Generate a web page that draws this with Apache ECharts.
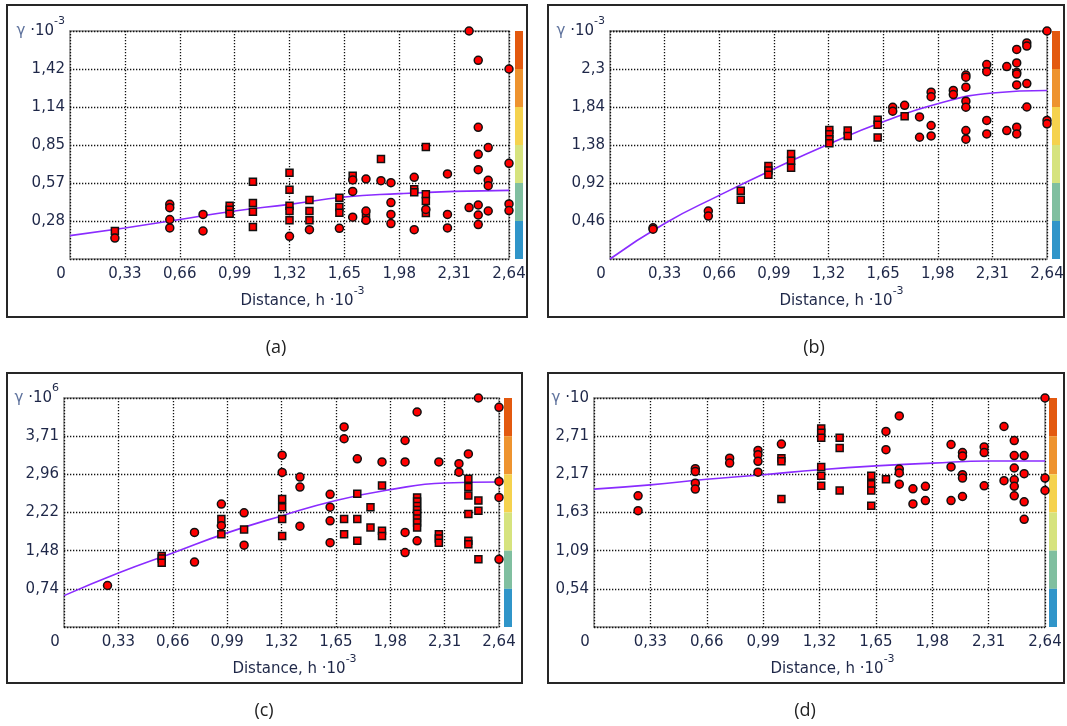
<!DOCTYPE html>
<html>
<head>
<meta charset="utf-8">
<script src="https://cdn.jsdelivr.net/npm/echarts@6/dist/echarts.min.js"></script>
<style>
  html, body { margin: 0; padding: 0; background: #ffffff; }
  #chart { width: 1067px; height: 726px; }
</style>
</head>
<body>
<div id="chart"></div>
<script>
// ---- Semivariogram data: distance h (·10^-3) vs gamma ----
const X_TICKS = ['0', '0,33', '0,66', '0,99', '1,32', '1,65', '1,98', '2,31', '2,64'];
const X_STEP = 0.33;

// Panel (a)
const A_Y_STEP = 0.285;
const A_Y_TICKS = ['0,28', '0,57', '0,85', '1,14', '1,42'];
const A_Y_UNIT = '-3';
const A_SQUARES = [
  [0.27, 0.21],
  [0.96, 0.40], [0.96, 0.37], [0.96, 0.34],
  [1.10, 0.58], [1.10, 0.42], [1.10, 0.355], [1.10, 0.24],
  [1.32, 0.646], [1.32, 0.52], [1.32, 0.40], [1.32, 0.36], [1.32, 0.29],
  [1.44, 0.443], [1.44, 0.36], [1.44, 0.29],
  [1.62, 0.46], [1.62, 0.39], [1.62, 0.347],
  [1.70, 0.625], [1.78, 0.32], [1.87, 0.75],
  [2.07, 0.524], [2.07, 0.50],
  [2.14, 0.84], [2.14, 0.486], [2.14, 0.435], [2.14, 0.345]
];
const A_CIRCLES = [
  [0.27, 0.157],
  [0.60, 0.41], [0.60, 0.385], [0.60, 0.296], [0.60, 0.233],
  [0.80, 0.334], [0.80, 0.21],
  [1.32, 0.17], [1.44, 0.22], [1.62, 0.23],
  [1.70, 0.593], [1.70, 0.507], [1.70, 0.314],
  [1.78, 0.60], [1.78, 0.36], [1.78, 0.29],
  [1.87, 0.587],
  [1.93, 0.572], [1.93, 0.423], [1.93, 0.334], [1.93, 0.266],
  [2.07, 0.613], [2.07, 0.22],
  [2.14, 0.372],
  [2.27, 0.638], [2.27, 0.334], [2.27, 0.233],
  [2.40, 1.71], [2.40, 0.386],
  [2.455, 1.49], [2.455, 0.988], [2.455, 0.785], [2.455, 0.67], [2.455, 0.405], [2.455, 0.33], [2.455, 0.258],
  [2.515, 0.836], [2.515, 0.59], [2.515, 0.55], [2.515, 0.36],
  [2.64, 1.425], [2.64, 0.718], [2.64, 0.413], [2.64, 0.363]
];
const A_MODEL = [[0, 0.175], [0.33, 0.233], [0.66, 0.296], [0.99, 0.36], [1.32, 0.41], [1.65, 0.465], [1.98, 0.49], [2.31, 0.507], [2.64, 0.515]];

// Panel (b)
const B_Y_STEP = 0.46;
const B_Y_TICKS = ['0,46', '0,92', '1,38', '1,84', '2,3'];
const B_Y_UNIT = '-3';
const B_SQUARES = [
  [0.79, 0.826], [0.79, 0.716],
  [0.957, 1.125], [0.957, 1.07], [0.957, 1.02],
  [1.094, 1.27], [1.094, 1.19], [1.094, 1.105],
  [1.325, 1.563], [1.325, 1.51], [1.325, 1.45], [1.325, 1.40],
  [1.436, 1.555], [1.436, 1.49],
  [1.617, 1.686], [1.617, 1.624], [1.617, 1.47],
  [1.78, 1.727]
];
const B_CIRCLES = [
  [0.26, 0.377], [0.26, 0.36],
  [0.594, 0.58], [0.594, 0.52],
  [1.708, 1.837], [1.708, 1.79],
  [1.78, 1.86],
  [1.87, 1.72], [1.87, 1.474],
  [1.94, 2.02], [1.94, 1.964], [1.94, 1.616], [1.94, 1.49],
  [2.074, 2.04], [2.074, 1.99],
  [2.15, 2.226], [2.15, 2.2], [2.15, 2.08], [2.15, 1.91], [2.15, 1.837], [2.15, 1.555], [2.15, 1.45],
  [2.276, 2.353], [2.276, 2.267], [2.276, 1.678], [2.276, 1.514],
  [2.397, 2.33], [2.397, 1.555],
  [2.457, 2.537], [2.457, 2.373], [2.457, 2.259], [2.457, 2.238], [2.457, 2.107], [2.457, 1.596], [2.457, 1.514],
  [2.518, 2.615], [2.518, 2.578], [2.518, 2.124], [2.518, 1.84],
  [2.64, 2.76], [2.64, 1.678], [2.64, 1.637]
];
const B_MODEL = [[0, 0], [0.33, 0.43], [0.66, 0.77], [0.99, 1.09], [1.32, 1.39], [1.65, 1.66], [1.98, 1.88], [2.31, 2.01], [2.64, 2.04]];

// Panel (c)
const C_Y_STEP = 0.742;
const C_Y_TICKS = ['0,74', '1,48', '2,22', '2,96', '3,71'];
const C_Y_UNIT = '6';
const C_SQUARES = [
  [0.593, 1.38], [0.593, 1.33], [0.593, 1.25],
  [0.955, 2.10], [0.955, 1.805],
  [1.093, 1.897],
  [1.324, 2.49], [1.324, 2.33], [1.324, 2.10], [1.324, 1.77],
  [1.70, 2.10], [1.70, 1.805],
  [1.78, 2.59], [1.78, 2.10], [1.78, 1.675],
  [1.86, 2.33], [1.86, 1.936],
  [1.93, 2.75], [1.93, 1.87], [1.93, 1.77],
  [2.143, 2.52], [2.143, 2.44], [2.143, 2.35], [2.143, 2.275], [2.143, 2.20], [2.143, 2.11], [2.143, 2.03], [2.143, 1.936],
  [2.275, 1.805], [2.275, 1.72], [2.275, 1.64],
  [2.454, 2.88], [2.454, 2.72], [2.454, 2.555], [2.454, 2.197], [2.454, 1.675], [2.454, 1.61],
  [2.515, 2.457], [2.515, 2.26], [2.515, 1.315]
];
const C_CIRCLES = [
  [0.264, 0.807],
  [0.792, 1.838], [0.792, 1.263],
  [0.955, 2.39], [0.955, 1.97],
  [1.093, 2.22], [1.093, 1.59],
  [1.324, 3.34], [1.324, 3.005],
  [1.432, 2.915], [1.432, 2.72], [1.432, 1.96],
  [1.615, 2.58], [1.615, 2.33], [1.615, 2.065], [1.615, 1.64],
  [1.70, 3.89], [1.70, 3.66],
  [1.78, 3.27], [1.93, 3.21],
  [2.07, 3.626], [2.07, 3.21], [2.07, 1.838], [2.07, 1.447],
  [2.143, 4.18], [2.143, 1.675],
  [2.275, 3.21],
  [2.397, 3.175], [2.397, 3.01],
  [2.454, 3.365],
  [2.515, 4.452],
  [2.64, 4.27], [2.64, 2.83], [2.64, 2.52], [2.64, 1.315]
];
const C_MODEL = [[0, 0.61], [0.33, 1.05], [0.66, 1.44], [0.99, 1.83], [1.32, 2.16], [1.65, 2.46], [1.98, 2.67], [2.31, 2.80], [2.64, 2.82]];

// Panel (d)
const D_Y_STEP = 0.5425;
const D_Y_TICKS = ['0,54', '1,09', '1,63', '2,17', '2,71'];
const D_Y_UNIT = '';
const D_SQUARES = [
  [1.097, 2.40], [1.097, 2.355], [1.097, 1.82],
  [1.33, 2.82], [1.33, 2.76], [1.33, 2.69], [1.33, 2.275], [1.33, 2.15], [1.33, 2.007],
  [1.438, 2.69], [1.438, 2.546], [1.438, 1.94],
  [1.623, 2.15], [1.623, 2.03], [1.623, 1.94], [1.623, 1.725],
  [1.709, 2.10]
];
const D_CIRCLES = [
  [0.258, 1.864], [0.258, 1.653],
  [0.593, 2.25], [0.593, 2.21], [0.593, 2.045], [0.593, 1.96],
  [0.794, 2.40], [0.794, 2.33],
  [0.96, 2.51], [0.96, 2.45], [0.96, 2.355], [0.96, 2.20],
  [1.097, 2.60],
  [1.709, 2.78], [1.709, 2.52],
  [1.787, 3.0], [1.787, 2.246], [1.787, 2.19], [1.787, 2.03],
  [1.867, 1.964], [1.867, 1.75],
  [1.94, 2.0], [1.94, 1.797],
  [2.09, 2.594], [2.09, 2.275], [2.09, 1.797],
  [2.157, 2.48], [2.157, 2.43], [2.157, 2.165], [2.157, 2.117], [2.157, 1.855],
  [2.284, 2.56], [2.284, 2.48], [2.284, 2.007],
  [2.40, 2.85], [2.40, 2.08],
  [2.46, 2.65], [2.46, 2.436], [2.46, 2.26], [2.46, 2.093], [2.46, 2.0], [2.46, 1.864],
  [2.518, 2.436], [2.518, 2.18], [2.518, 1.78], [2.518, 1.53],
  [2.64, 3.255], [2.64, 2.117], [2.64, 1.94]
];
const D_MODEL = [[0, 1.96], [0.33, 2.02], [0.66, 2.10], [0.99, 2.165], [1.32, 2.235], [1.65, 2.29], [1.98, 2.33], [2.31, 2.36], [2.64, 2.36]];

const CAPTIONS = ['(a)', '(b)', '(c)', '(d)'];
const COLOR_BAR = ['#e3590f', '#ee932f', '#f5d24e', '#d6e37e', '#80bfa0', '#3095c9'];

// ---- Layout and styles ----
const FONT = 'DejaVu Sans';
const TEXT = '#1e2748';
const Y_DIVS = 6;

const panels = [
  { grid: { left: 70, top: 31, width: 439, height: 228 }, frame: [7, 5, 520, 312], bar: 515, cap: [276, 348],
    yStep: A_Y_STEP, yTicks: A_Y_TICKS, unit: A_Y_UNIT, squares: A_SQUARES, circles: A_CIRCLES, model: A_MODEL },
  { grid: { left: 610, top: 31, width: 437, height: 228 }, frame: [548, 5, 516, 312], bar: 1052, cap: [814, 348],
    yStep: B_Y_STEP, yTicks: B_Y_TICKS, unit: B_Y_UNIT, squares: B_SQUARES, circles: B_CIRCLES, model: B_MODEL },
  { grid: { left: 64, top: 398, width: 435, height: 229 }, frame: [7, 373, 515, 310], bar: 504, cap: [264, 711],
    yStep: C_Y_STEP, yTicks: C_Y_TICKS, unit: C_Y_UNIT, squares: C_SQUARES, circles: C_CIRCLES, model: C_MODEL },
  { grid: { left: 594, top: 398, width: 451, height: 229 }, frame: [548, 373, 516, 310], bar: 1049, cap: [805, 711],
    yStep: D_Y_STEP, yTicks: D_Y_TICKS, unit: D_Y_UNIT, squares: D_SQUARES, circles: D_CIRCLES, model: D_MODEL }
];

const grids = [], xAxes = [], yAxes = [], series = [], graphics = [];

const gridLine = { show: true, lineStyle: { color: '#111111', width: 1.3, type: [1.3, 1.7] } };
const supRich = {
  g: { fontFamily: FONT, fontSize: 15, color: '#5d719c', lineHeight: 30 },
  t: { fontFamily: FONT, fontSize: 15, color: TEXT, lineHeight: 30 },
  s: { fontFamily: FONT, fontSize: 11, color: TEXT, lineHeight: 12, verticalAlign: 'top' },
  z: { fontFamily: FONT, fontSize: 15, color: TEXT, padding: [0, 18, 0, 0] }
};

panels.forEach(function (p, k) {
  grids.push(Object.assign({ show: true, borderColor: '#a9a9a9', borderWidth: 2, backgroundColor: '#ffffff' }, p.grid));

  xAxes.push({
    gridIndex: k, type: 'value', min: 0, max: 2.64, interval: X_STEP,
    axisLine: { show: false }, axisTick: { show: false },
    splitLine: gridLine,
    axisLabel: {
      margin: 8, fontFamily: FONT, fontSize: 15, color: TEXT, rich: supRich,
      formatter: function (v) {
        const i = Math.round(v / X_STEP);
        return i === 0 ? '{z|' + X_TICKS[0] + '}' : X_TICKS[i];
      }
    },
    name: '{t|Distance, h ·10}{s|-3}',
    nameLocation: 'middle', nameGap: 27,
    nameTextStyle: { fontFamily: FONT, fontSize: 15, color: TEXT, rich: supRich, padding: [0, 0, 0, 26] }
  });

  const step = p.yStep, ticks = p.yTicks, unit = p.unit;
  yAxes.push({
    gridIndex: k, type: 'value', min: 0, max: step * Y_DIVS, interval: step,
    axisLine: { show: false }, axisTick: { show: false },
    splitLine: gridLine,
    axisLabel: {
      margin: 5, fontFamily: FONT, fontSize: 15, color: TEXT, rich: supRich,
      showMinLabel: false,
      formatter: function (v) {
        const i = Math.round(v / step);
        if (i === 0) return '';
        if (i === Y_DIVS) return '{g|γ}{t| ·10}' + (unit ? '{s|' + unit + '}' : '');
        return ticks[i - 1];
      }
    }
  });

  const marker = { color: '#ff0000', borderColor: '#111111', borderWidth: 1.5, opacity: 1 };
  series.push({
    type: 'line', xAxisIndex: k, yAxisIndex: k, data: p.model, smooth: true,
    showSymbol: false, lineStyle: { color: '#8a2cff', width: 1.6 }, z: 2, silent: true
  });
  series.push({
    type: 'scatter', xAxisIndex: k, yAxisIndex: k, data: p.squares, symbol: 'rect',
    symbolSize: 7, itemStyle: marker, clip: false, z: 3
  });
  series.push({
    type: 'scatter', xAxisIndex: k, yAxisIndex: k, data: p.circles, symbol: 'circle',
    symbolSize: 8, itemStyle: marker, clip: false, z: 4
  });

  // outer frame of the panel
  graphics.push({
    type: 'rect', shape: { x: p.frame[0], y: p.frame[1], width: p.frame[2], height: p.frame[3] },
    style: { fill: 'none', stroke: '#262626', lineWidth: 2 }, z: 1
  });
  // colour scale strip beside the plot
  const segH = p.grid.height / COLOR_BAR.length;
  COLOR_BAR.forEach(function (c, j) {
    graphics.push({
      type: 'rect', shape: { x: p.bar, y: p.grid.top + j * segH, width: 8, height: segH },
      style: { fill: c }, z: 1
    });
  });
  // panel caption
  graphics.push({
    type: 'text', x: p.cap[0], y: p.cap[1],
    style: { text: CAPTIONS[k], fontFamily: 'Open Sans', fontSize: 18, fill: '#222222', align: 'center', verticalAlign: 'middle' },
    z: 1
  });
});

const chart = echarts.init(document.getElementById('chart'), null, { renderer: 'canvas' });
chart.setOption({
  backgroundColor: '#ffffff',
  animation: false,
  grid: grids,
  xAxis: xAxes,
  yAxis: yAxes,
  series: series,
  graphic: graphics
});
</script>
</body>
</html>
